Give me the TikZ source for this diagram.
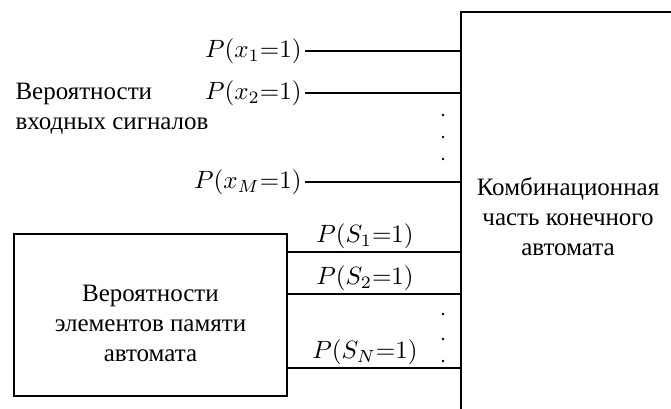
\documentclass[tikz,border=0pt]{standalone}
\usepackage{fontspec}
\setmainfont{Liberation Serif}
\begin{document}
\begin{tikzpicture}[x=0.4pt,y=-0.4pt,
  wire/.style={line width=0.55pt},
  boxline/.style={draw,line width=0.55pt},
  plabel/.style={inner sep=1.2pt},
  vdot/.style={fill,circle,inner sep=0pt,minimum size=1.1pt}]
\useasboundingbox (0,0) rectangle (671,408);
\clip (0,0) rectangle (671,408);
% combinational part
\node[boxline,minimum width=85.6pt,minimum height=164pt,align=center] (comb) at (568,217)
  {Комбинационная\\часть конечного\\автомата};
% memory box
\node[boxline,minimum width=109.2pt,minimum height=64.8pt] (mem) at (150.5,315) {};
\node[align=center] (memtext) at (150.5,323) {Вероятности\\элементов памяти\\автомата};
% left text
\node[align=left,anchor=west,inner sep=0pt] (intext) at (15,109) {Вероятности\\входных сигналов};
% input labels
\node[plabel,anchor=east] (x1) at (305,51) {$P(x_1{=}1)$};
\node[plabel,anchor=east] (x2) at (305,93) {$P(x_2{=}1)$};
\node[plabel,anchor=east] (xM) at (305,182) {$P(x_M{=}1)$};
\draw[wire] (x1.east) -- (x1.east -| comb.west);
\draw[wire] (x2.east) -- (x2.east -| comb.west);
\draw[wire] (xM.east) -- (xM.east -| comb.west);
% dots
\node[vdot] (d1) at (443,115) {};
\node[vdot] (d2) at (443,137) {};
\node[vdot] (d3) at (443,159) {};
\node[vdot] (d4) at (443,314) {};
\node[vdot] (d5) at (443,339) {};
\node[vdot] (d6) at (443,361) {};
% state lines
\coordinate (s1) at (287,252);
\coordinate (s2) at (287,294);
\coordinate (sN) at (287,368);
\draw[wire] (s1) -- (s1 -| comb.west);
\draw[wire] (s2) -- (s2 -| comb.west);
\draw[wire] (sN) -- (sN -| comb.west);
\node[plabel,anchor=south] (ls1) at (365,252) {$P(S_1{=}1)$};
\node[plabel,anchor=south] (ls2) at (365,294) {$P(S_2{=}1)$};
\node[plabel,anchor=south] (lsN) at (365,368) {$P(S_N{=}1)$};
\end{tikzpicture}
\end{document}
